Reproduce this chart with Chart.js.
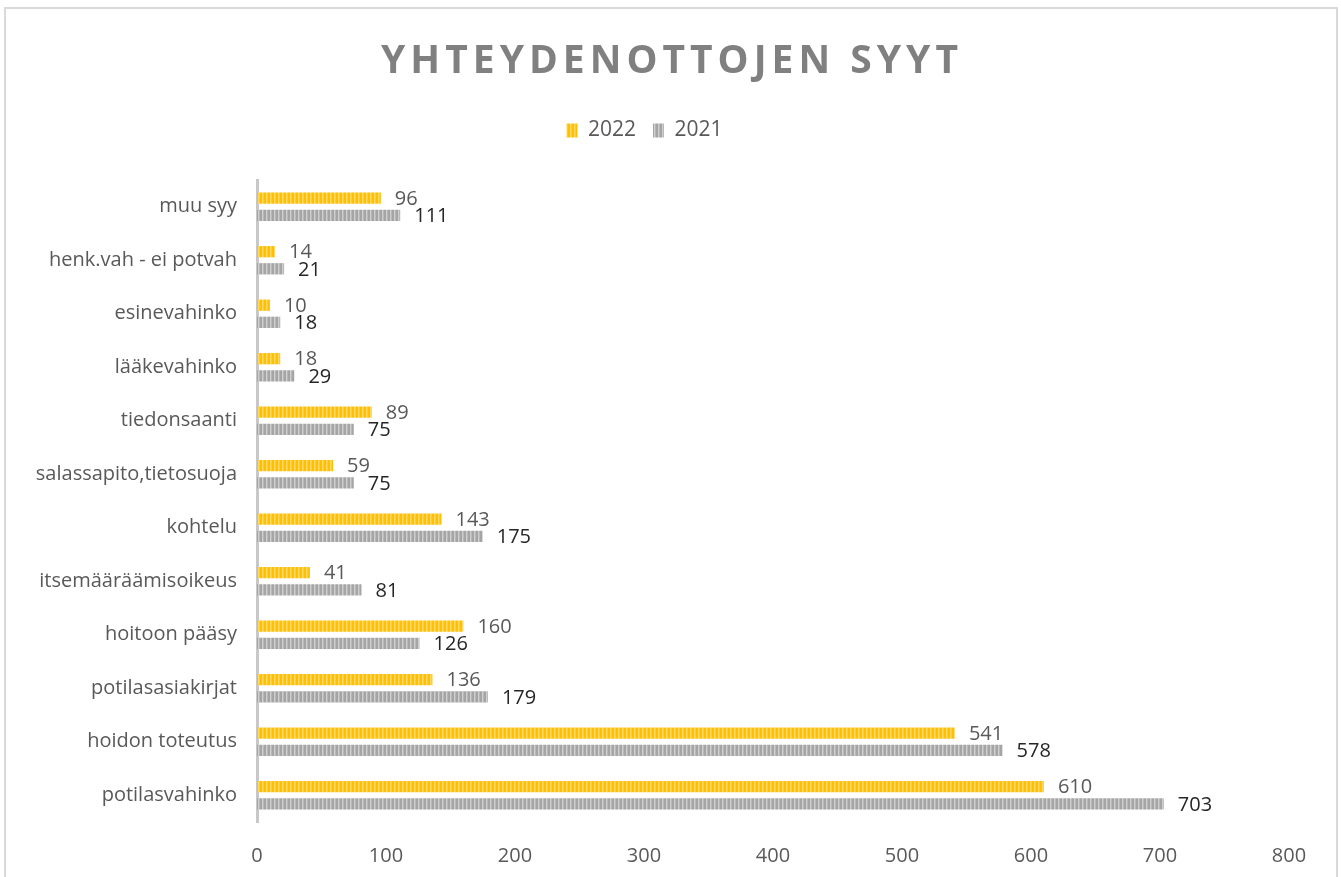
<!DOCTYPE html>
<html>
<head>
<meta charset="utf-8">
<script src="https://cdn.jsdelivr.net/npm/chart.js@4/dist/chart.umd.min.js"></script>
<style>
  body { margin: 0; background: #fff; }
  #wrap { position: relative; width: 1341px; height: 877px; overflow: hidden; }
  #frame { position: absolute; left: 4px; top: 7px; width: 1330px; height: 900px; border: 2px solid #d9d9d9; pointer-events: none; }
</style>
</head>
<body>
<div id="wrap">
  <canvas id="chart" width="1341" height="877"></canvas>
  <div id="frame"></div>
</div>
<script>
var categories = ["muu syy", "henk.vah - ei potvah", "esinevahinko", "lääkevahinko", "tiedonsaanti",
  "salassapito,tietosuoja", "kohtelu", "itsemääräämisoikeus", "hoitoon pääsy", "potilasasiakirjat",
  "hoidon toteutus", "potilasvahinko"];
var values2022 = [96, 14, 10, 18, 89, 59, 143, 41, 160, 136, 541, 610];
var values2021 = [111, 21, 18, 29, 75, 75, 175, 81, 126, 179, 578, 703];
var xTicks = [0, 100, 200, 300, 400, 500, 600, 700, 800];

var FONT = "'Open Sans', 'Noto Sans', sans-serif";

// striped fill like the excel texture
function stripes(base, light, mid) {
    var c = document.createElement("canvas");
    c.width = 4; c.height = 4;
    var g = c.getContext("2d");
    g.fillStyle = base; g.fillRect(0, 0, 4, 4);
    g.fillStyle = light; g.fillRect(2, 0, 1, 4);
    g.fillStyle = mid; g.fillRect(3, 0, 1, 4);
    return g.createPattern(c, "repeat");
}
var yellowFill = stripes("#ffc000", "#ffd966", "#ffcc33");
var grayFill = stripes("#a5a5a5", "#cfcfcf", "#b8b8b8");

var titlePlugin = {
    id: "titleSpaced",
    afterDraw: function (chart) {
        var ctx = chart.ctx;
        ctx.save();
        ctx.font = "bold 39px " + FONT;
        ctx.fillStyle = "#808080";
        ctx.textAlign = "center";
        ctx.textBaseline = "middle";
        ctx.letterSpacing = "5px";
        ctx.fillText("YHTEYDENOTTOJEN SYYT", 672, 62);
        ctx.restore();
    }
};

var valueLabels = {
    id: "valueLabels",
    afterDatasetsDraw: function (chart) {
        var ctx = chart.ctx;
        ctx.save();
        ctx.font = "20px " + FONT;
        ctx.textBaseline = "middle";
        ctx.textAlign = "left";
        chart.data.datasets.forEach(function (ds, di) {
            var meta = chart.getDatasetMeta(di);
            ctx.fillStyle = di === 0 ? "#595959" : "#262626";
            meta.data.forEach(function (bar, i) {
                ctx.fillText(ds.data[i], bar.x + 14, bar.y + 1);
            });
        });
        ctx.restore();
    }
};

new Chart(document.getElementById("chart"), {
    type: "bar",
    data: {
        labels: categories,
        datasets: [
            { label: "2022", data: values2022, backgroundColor: yellowFill, categoryPercentage: 0.64, barPercentage: 0.66 },
            { label: "2021", data: values2021, backgroundColor: grayFill, categoryPercentage: 0.64, barPercentage: 0.66 }
        ]
    },
    options: {
        indexAxis: "y",
        responsive: false,
        animation: false,
        layout: { padding: { top: 103, left: 0, right: 52, bottom: 0 } },
        plugins: {
            legend: {
                position: "top",
                labels: {
                    boxWidth: 11, boxHeight: 14, padding: 17,
                    color: "#595959", font: { family: FONT, size: 21 }
                }
            },
            tooltip: { enabled: false }
        },
        scales: {
            x: {
                min: 0, max: 800,
                afterBuildTicks: function (s) { s.ticks = xTicks.map(function (v) { return { value: v }; }); },
                grid: { display: false, drawTicks: false },
                border: { display: false },
                ticks: { color: "#595959", padding: 22, font: { family: FONT, size: 20 } },
                afterFit: function (s) { s.height = 55; }
            },
            // empty top axis, only keeps the gap between legend and bars
            gap: {
                type: "linear", position: "top", axis: "x",
                grid: { display: false, drawTicks: false },
                border: { display: false },
                ticks: { display: false },
                afterFit: function (s) { s.height = 29; }
            },
            y: {
                grid: { display: false, drawTicks: false },
                border: { display: true, color: "#c8c8c8", width: 3 },
                ticks: { color: "#595959", padding: 20, font: { family: FONT, size: 20 } },
                afterFit: function (s) { s.width = 257; }
            }
        }
    },
    plugins: [titlePlugin, valueLabels]
});
</script>
</body>
</html>
